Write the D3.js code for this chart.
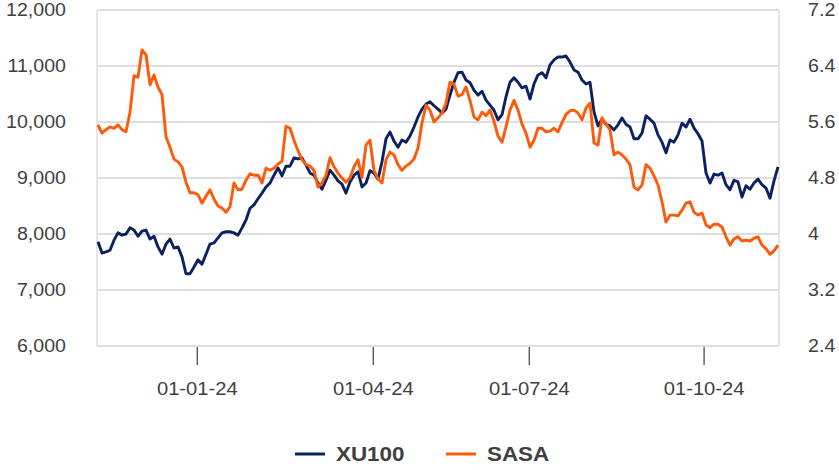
<!DOCTYPE html>
<html>
<head>
<meta charset="utf-8">
<script src="https://cdn.jsdelivr.net/npm/d3@7"></script>
<style>
  body { margin: 0; background: #fff; }
  text { font-family: "Liberation Sans", Arial, sans-serif; fill: #404040; }
</style>
</head>
<body>
<div id="chart"></div>
<script>
// XU100 index level (left axis), one value per observation
const xu100 = [
  7860, 7660, 7680, 7710, 7890, 8020, 7980, 8000, 8110, 8070,
  7960, 8050, 8070, 7910, 7960, 7770, 7640, 7820, 7910, 7750,
  7770, 7590, 7290, 7290, 7410, 7540, 7460, 7640, 7820, 7840,
  7930, 8020, 8040, 8040, 8020, 7980, 8110, 8250, 8460, 8520,
  8630, 8730, 8840, 8910, 9050, 9180, 9040, 9210, 9210, 9360,
  9340, 9360, 9230, 9090, 9050, 8910, 8800, 8960, 9140, 9050,
  8950, 8890, 8730, 8930, 9050, 9110, 8840, 8910, 9130, 9090,
  8980, 9290, 9700, 9820, 9660, 9550, 9680, 9640, 9750, 9910,
  10090, 10230, 10320, 10360, 10290, 10230, 10160, 10230, 10480, 10710,
  10880, 10890, 10750, 10700, 10570, 10480, 10550, 10390, 10300, 10210,
  10040, 10130, 10450, 10710, 10790, 10710, 10610, 10640, 10410, 10680,
  10840, 10880, 10790, 11020, 11110, 11160, 11160, 11180, 11070, 10930,
  10890, 10750, 10680, 10710, 10180, 9930, 10050, 9960, 9930, 9860,
  9950, 10070, 9960, 9910, 9700, 9700, 9800, 10110, 10050, 9980,
  9770, 9640, 9450, 9680, 9640, 9770, 9980, 9910, 10050, 9890,
  9790, 9660, 9090, 8910, 9070, 9050, 9090, 8880, 8790, 8960,
  8930, 8660, 8860, 8800, 8910, 8980, 8880, 8820, 8640, 8950,
  9200
];

// SASA share price (right axis)
const sasa = [
  5.56, 5.44, 5.49, 5.53, 5.51, 5.56, 5.49, 5.46, 5.74, 6.26,
  6.24, 6.63, 6.56, 6.13, 6.27, 6.10, 5.99, 5.39, 5.24, 5.07,
  5.03, 4.96, 4.74, 4.59, 4.59, 4.56, 4.44, 4.54, 4.63, 4.50,
  4.40, 4.37, 4.31, 4.39, 4.73, 4.63, 4.64, 4.77, 4.86, 4.84,
  4.84, 4.73, 4.94, 4.91, 4.94, 5.00, 5.04, 5.54, 5.51, 5.34,
  5.19, 5.06, 4.99, 4.97, 4.91, 4.67, 4.73, 4.84, 5.09, 4.96,
  4.87, 4.80, 4.74, 4.80, 4.96, 5.06, 4.81, 5.27, 5.34, 4.91,
  4.79, 4.73, 5.06, 5.17, 5.13, 4.99, 4.91, 4.97, 5.01, 5.07,
  5.23, 5.59, 5.84, 5.77, 5.60, 5.66, 5.73, 5.87, 6.17, 6.14,
  5.97, 5.99, 6.10, 5.91, 5.67, 5.63, 5.74, 5.69, 5.77, 5.61,
  5.40, 5.31, 5.53, 5.77, 5.91, 5.77, 5.57, 5.44, 5.24, 5.34,
  5.51, 5.51, 5.46, 5.47, 5.51, 5.46, 5.59, 5.71, 5.76, 5.77,
  5.73, 5.63, 5.80, 5.87, 5.30, 5.27, 5.66, 5.57, 5.49, 5.13,
  5.17, 5.13, 5.07, 4.99, 4.67, 4.63, 4.70, 4.99, 4.94, 4.83,
  4.70, 4.46, 4.17, 4.27, 4.27, 4.26, 4.34, 4.44, 4.46, 4.31,
  4.27, 4.30, 4.13, 4.09, 4.14, 4.14, 4.10, 3.96, 3.84, 3.93,
  3.96, 3.90, 3.91, 3.90, 3.94, 3.96, 3.84, 3.79, 3.71, 3.76,
  3.84
];

// date ticks sit between observations
const tickIdx = [24.7, 68.7, 107.7, 151.4];
const tickLabels = ["01-01-24", "01-04-24", "01-07-24", "01-10-24"];
const leftTicks = [6000, 7000, 8000, 9000, 10000, 11000, 12000];
const rightTicks = [2.4, 3.2, 4, 4.8, 5.6, 6.4, 7.2];
const seriesNames = ["XU100", "SASA"];
const seriesColors = ["#0b2160", "#ff5a0a"];

const width = 839, height = 470;
const plot = {left: 97, right: 779, top: 10, bottom: 346};
const stretch = "scale(1.12,1)";

const svg = d3.select("#chart").append("svg")
  .attr("width", width)
  .attr("height", height);

const x = d3.scaleLinear()
  .domain([0, xu100.length - 1])
  .range([plot.left + 1, plot.right - 1]);

const yL = d3.scaleLinear().domain([6000, 12000]).range([plot.bottom, plot.top]);
const yR = d3.scaleLinear().domain([2.4, 7.2]).range([plot.bottom, plot.top]);

// grid + frame
svg.append("g")
  .selectAll("line")
  .data(leftTicks)
  .join("line")
    .attr("x1", plot.left)
    .attr("x2", plot.right)
    .attr("y1", d => yL(d))
    .attr("y2", d => yL(d))
    .attr("stroke", "#dedede")
    .attr("stroke-width", 2);

svg.append("g")
  .selectAll("line")
  .data([plot.left, plot.right])
  .join("line")
    .attr("x1", d => d)
    .attr("x2", d => d)
    .attr("y1", plot.top)
    .attr("y2", plot.bottom)
    .attr("stroke", "#dedede")
    .attr("stroke-width", 1.5);

// left axis
svg.append("g")
  .attr("transform", `translate(${plot.left},0)`)
  .call(d3.axisLeft(yL).tickValues(leftTicks).tickFormat(d3.format(",")).tickSize(0).tickPadding(27.7))
  .call(g => g.select(".domain").remove())
  .call(g => g.selectAll("text")
    .attr("font-size", 17.5)
    .attr("fill", "#404040")
    .attr("transform", stretch));

// right axis
svg.append("g")
  .attr("transform", `translate(${plot.right},0)`)
  .call(d3.axisRight(yR).tickValues(rightTicks).tickFormat(d => String(d)).tickSize(0).tickPadding(26))
  .call(g => g.select(".domain").remove())
  .call(g => g.selectAll("text")
    .attr("font-size", 17.5)
    .attr("fill", "#404040")
    .attr("transform", stretch));

// bottom axis
svg.append("g")
  .attr("transform", `translate(0,${plot.bottom + 1})`)
  .call(d3.axisBottom(x)
    .tickValues(tickIdx)
    .tickFormat((d, i) => tickLabels[i])
    .tickSize(18)
    .tickPadding(17))
  .call(g => g.select(".domain").remove())
  .call(g => g.selectAll(".tick line").attr("stroke", "#595959").attr("stroke-width", 1.4))
  .call(g => g.selectAll("text")
    .attr("font-size", 18)
    .attr("fill", "#404040")
    .attr("transform", stretch));

// lines
const lineL = d3.line().x((d, i) => x(i)).y(d => yL(d));
const lineR = d3.line().x((d, i) => x(i)).y(d => yR(d));

svg.append("path")
  .datum(xu100)
  .attr("fill", "none")
  .attr("stroke", seriesColors[0])
  .attr("stroke-width", 2.9)
  .attr("stroke-linejoin", "round")
  .attr("d", lineL);

svg.append("path")
  .datum(sasa)
  .attr("fill", "none")
  .attr("stroke", seriesColors[1])
  .attr("stroke-width", 2.9)
  .attr("stroke-linejoin", "round")
  .attr("d", lineR);

// legend
const legendX = [295, 446];
const legend = svg.append("g")
  .selectAll("g")
  .data(seriesNames)
  .join("g")
    .attr("transform", (d, i) => `translate(${legendX[i]},454)`);

legend.append("line")
  .attr("x1", 0)
  .attr("x2", 30)
  .attr("stroke", (d, i) => seriesColors[i])
  .attr("stroke-width", 3);

legend.append("text")
  .attr("x", 0)
  .attr("dy", "0.36em")
  .attr("transform", "translate(41,0) " + stretch)
  .attr("font-size", 20)
  .attr("font-weight", "bold")
  .attr("fill", "#404040")
  .text(d => d);
</script>
</body>
</html>
